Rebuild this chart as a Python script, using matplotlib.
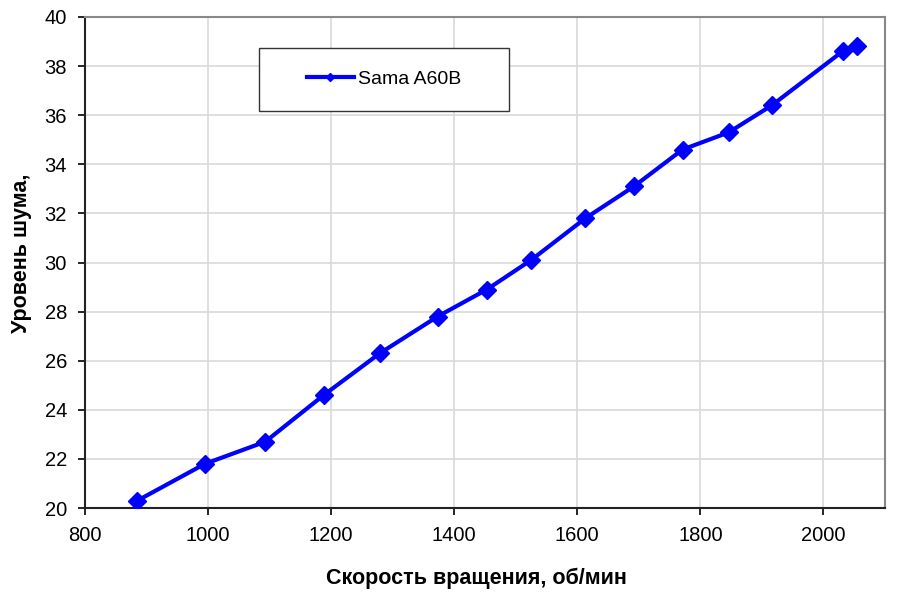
import matplotlib
matplotlib.use("Agg")
import matplotlib.pyplot as plt
from matplotlib.patches import Rectangle

rpm = [885, 995, 1093, 1188, 1279, 1373, 1453, 1525, 1613, 1692, 1771, 1846, 1916, 2031, 2054]
noise = [20.3, 21.8, 22.7, 24.6, 26.3, 27.8, 28.9, 30.1, 31.8, 33.1, 34.6, 35.3, 36.4, 38.6, 38.8]
series_name = "Sama A60B"
xlabel = "Скорость вращения, об/мин"
ylabel = "Уровень шума,"
xticks = [800, 1000, 1200, 1400, 1600, 1800, 2000]
yticks = [20, 22, 24, 26, 28, 30, 32, 34, 36, 38, 40]

plt.rcParams['font.family'] = ['Liberation Sans', 'DejaVu Sans']

fig = plt.figure(figsize=(9.08, 5.99), dpi=100)
ax = fig.add_axes([85/908, 1-508/599, 800/908, 491/599])

ax.plot(rpm, noise, color='#0000ff', lw=3.0, marker='D', ms=9.5, label=series_name, zorder=3)

ax.set_xlim(800, 2100)
ax.set_ylim(20, 40)
ax.set_xticks(xticks)
ax.set_yticks(yticks)
ax.grid(True, color='#d9d9d9', lw=1.2)
ax.set_axisbelow(True)
ax.tick_params(direction='out', length=5, width=1.2, pad=8, labelsize=14.5, colors='black')
for s in ['left', 'bottom']:
    ax.spines[s].set_color('#222222')
    ax.spines[s].set_linewidth(1.5)
for s in ['top', 'right']:
    ax.spines[s].set_color('#888888')
    ax.spines[s].set_linewidth(1.5)

ax.set_xlabel(xlabel, fontsize=15.5, fontweight='bold', labelpad=17)
ax.xaxis.set_label_coords((476-85)/800, -0.122)
ax.set_ylabel(ylabel, fontsize=15.5, fontweight='bold', labelpad=9)
ax.yaxis.label.set_y((508-253)/491)

x0, x1 = (259-85)/800, (509-85)/800
y1, y0 = (508-48)/491, (508-111)/491
ax.add_patch(Rectangle((x0, y0), x1-x0, y1-y0, transform=ax.transAxes, facecolor='white',
                       edgecolor='#333333', lw=1.0, zorder=4))
leg = ax.legend(loc='center', bbox_to_anchor=((x0+x1)/2, (y0+y1)/2), frameon=False,
                fontsize=14, handlelength=2.4, handletextpad=0.2, markerscale=0.45)
leg.set_zorder(5)

fig.savefig("out.png", dpi=100)
